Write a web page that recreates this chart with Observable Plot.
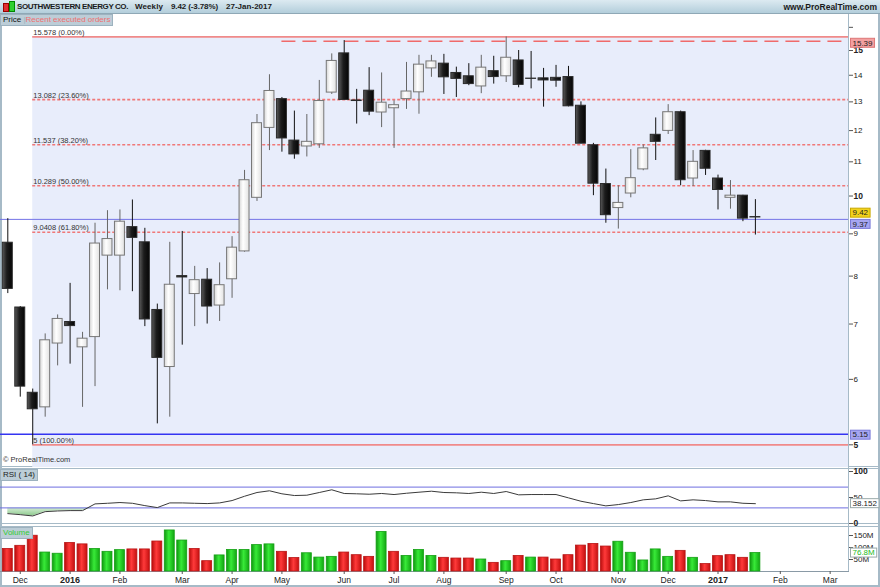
<!DOCTYPE html>
<html><head><meta charset="utf-8">
<script src="https://cdn.jsdelivr.net/npm/d3@7"></script>
<script src="https://cdn.jsdelivr.net/npm/@observablehq/plot@0.6"></script>
<style>
body{margin:0;background:#fff;font-family:"Liberation Sans",Arial,sans-serif;}
#root{position:relative;width:880px;height:587px;overflow:hidden;background:#fff;}
.abs{position:absolute;}
.hdr{left:0;top:0;width:880px;height:14px;background:linear-gradient(#dceaf1,#b3cedb);border-bottom:1px solid #8fa8b6;box-sizing:border-box;}
.ttl{top:1px;font-weight:bold;font-size:8px;color:#1b1b1b;line-height:12px;white-space:pre;}
.www{right:3px;top:1px;font-weight:bold;font-size:8.5px;color:#1b1b1b;line-height:12px;}
.tab{font-size:8px;line-height:10px;height:10px;padding:0 2px;background:#bccdd7;border:1px solid #9db2bf;white-space:pre;}
.ln{background:#a6bac7;}
</style></head><body>
<svg width="0" height="0" style="position:absolute">
<defs>
<linearGradient id="gW" x1="0" x2="1" y1="0" y2="0"><stop offset="0" stop-color="#d6d6d6"/><stop offset="0.4" stop-color="#ffffff"/><stop offset="1" stop-color="#e2e2e2"/></linearGradient>
<linearGradient id="gB" x1="0" x2="1" y1="0" y2="0"><stop offset="0" stop-color="#5a5a5a"/><stop offset="0.45" stop-color="#1c1c1c"/><stop offset="1" stop-color="#050505"/></linearGradient>
<linearGradient id="gR" x1="0" x2="1" y1="0" y2="0"><stop offset="0" stop-color="#b80c0c"/><stop offset="0.45" stop-color="#ff3a3a"/><stop offset="1" stop-color="#c41010"/></linearGradient>
<linearGradient id="gG" x1="0" x2="1" y1="0" y2="0"><stop offset="0" stop-color="#109810"/><stop offset="0.45" stop-color="#38ea38"/><stop offset="1" stop-color="#12a612"/></linearGradient>
<linearGradient id="gRsi" x1="0" x2="0" y1="0" y2="1"><stop offset="0" stop-color="#d6eed6"/><stop offset="1" stop-color="#8fca8f"/></linearGradient>
</defs></svg>
<div id="root"></div>
<script>
// ---------- data ----------
const weekDates = ["2015-11-30","2015-12-07","2015-12-14","2015-12-21","2015-12-28","2016-01-04","2016-01-11","2016-01-18","2016-01-25","2016-02-01","2016-02-08","2016-02-15","2016-02-22","2016-02-29","2016-03-07","2016-03-14","2016-03-21","2016-03-28","2016-04-04","2016-04-11","2016-04-18","2016-04-25","2016-05-02","2016-05-09","2016-05-16","2016-05-23","2016-05-30","2016-06-06","2016-06-13","2016-06-20","2016-06-27","2016-07-04","2016-07-11","2016-07-18","2016-07-25","2016-08-01","2016-08-08","2016-08-15","2016-08-22","2016-08-29","2016-09-05","2016-09-12","2016-09-19","2016-09-26","2016-10-03","2016-10-10","2016-10-17","2016-10-24","2016-10-31","2016-11-07","2016-11-14","2016-11-21","2016-11-28","2016-12-05","2016-12-12","2016-12-19","2016-12-26","2017-01-02","2017-01-09","2017-01-16","2017-01-23"];
const openP  = [8.78,7.33,5.78,5.55,6.63,7.04,6.56,6.75,8.47,8.47,9.17,8.79,7.28,6.21,8.00,7.61,7.92,7.37,7.93,8.57,9.95,12.09,13.10,11.67,11.48,11.55,13.34,14.88,13.05,13.41,12.62,12.77,13.10,13.35,14.27,14.46,14.09,13.96,13.57,14.16,13.96,14.59,13.87,13.88,13.90,13.93,12.86,11.52,10.34,9.67,10.07,10.77,11.86,11.99,12.63,10.50,11.34,10.50,9.95,10.01,9.43];
const highP  = [9.39,7.35,5.84,6.81,7.18,7.84,6.84,9.27,9.60,9.62,9.89,9.14,7.40,8.79,9.06,8.22,8.17,8.30,8.93,10.74,12.55,14.02,13.16,12.67,12.55,13.80,14.86,15.42,13.46,14.30,14.09,13.04,14.51,14.80,14.80,14.84,14.32,14.46,14.80,14.76,15.578,15.00,14.96,14.27,14.39,14.35,13.00,11.58,10.78,10.29,11.38,11.53,12.43,12.90,12.67,11.35,11.36,10.60,10.44,10.02,9.90];
const lowP   = [7.62,5.71,5.00,5.40,6.23,6.26,5.55,5.88,7.70,7.68,7.66,6.95,5.30,5.40,6.60,6.95,7.00,7.05,7.52,8.55,9.85,11.35,11.30,11.08,11.15,11.42,13.27,13.05,12.22,12.51,12.10,11.42,12.73,12.56,13.92,13.27,13.16,13.60,13.30,13.66,13.72,13.52,13.48,12.81,13.54,12.82,11.57,10.01,9.27,9.12,9.95,10.73,11.04,11.87,10.29,10.27,10.59,9.62,9.64,9.31,8.97];
const closeP = [7.72,5.88,5.52,6.69,7.10,6.96,6.72,8.76,8.87,9.31,8.90,7.09,6.37,7.81,7.97,7.91,7.35,7.80,8.66,10.45,12.25,13.40,11.74,11.23,11.63,13.03,14.57,13.07,13.03,12.65,12.97,12.88,13.38,14.42,14.55,13.92,13.86,13.66,14.30,13.93,14.70,13.63,13.86,13.80,13.79,12.84,11.57,10.35,9.48,9.81,10.51,11.42,11.63,12.63,10.45,11.00,10.79,10.17,10.01,9.39,9.42];
const volumeM = [94,107,149,79,74,119,113,94,82,89,92,92,125,171,129,94,43,67,90,90,110,113,82,56,76,58,61,79,68,61,165,82,65,90,65,57,54,54,50,36,43,65,58,58,50,68,108,115,104,124,78,46,92,61,86,57,31,64,68,57,76.8];
const rsi14 = [19.0,17.0,14.5,22.8,24.1,24.8,24.8,37.7,38.9,40.3,38.9,34.4,30.6,39.6,39.6,38.9,38.3,39.6,44.1,52.4,59.6,62.9,57.1,53.8,54.4,59.6,64.8,57.7,57.1,56.3,57.7,55.7,58.2,60.2,62.1,59.6,59.0,57.7,60.2,57.7,61.5,55.1,55.7,55.7,55.7,49.3,42.8,38.3,33.9,36.4,40.3,45.5,47.4,53.2,43.5,45.5,44.1,41.6,41.6,38.9,38.152];

const fibLevels = [15.578,13.082,11.537,10.289,9.0408,5];
const fibPct = ["0.00%","23.60%","38.20%","50.00%","61.80%","100.00%"];
const fibSolid = [true,false,false,false,false,true];
const fibStart = "2015-12-14";
const resistanceLevel = 15.39, resistanceStart = "2016-05-02";
const blueLevels = [9.37, 5.15];
const lastClose = 9.42, lastRsi = 38.152, lastVolume = 76.8;
const priceTicks = [5,6,7,8,9,10,11,12,13,14,15,16];
const priceBoldTicks = [5,10,15];
const rsiLevels = [70,30];
const volTicks = [50,100,150];
const monthTickDates = ["2015-12-07","2016-01-04","2016-02-01","2016-03-07","2016-04-04","2016-05-02","2016-06-06","2016-07-04","2016-08-01","2016-09-05","2016-10-03","2016-11-07","2016-12-05","2017-01-02","2017-02-06","2017-03-06"];
const monthTickLabels = ["Dec","2016","Feb","Mar","Apr","May","Jun","Jul","Aug","Sep","Oct","Nov","Dec","2017","Feb","Mar"];
const titleParts = ["SOUTHWESTERN ENERGY CO.","Weekly","9.42 (-3.78%)","27-Jan-2017"];

// ---------- build ----------
const bars = weekDates.map((d,i)=>({
  date:new Date(d), open:openP[i], high:highP[i], low:lowP[i], close:closeP[i],
  vol:volumeM[i], rsi:rsi14[i], up: closeP[i] > openP[i],
  volUp: i>0 && closeP[i] >= closeP[i-1]
}));
const up = bars.filter(b=>b.up), dn = bars.filter(b=>!b.up);
const vUp = bars.filter(b=>b.volUp), vDn = bars.filter(b=>!b.volUp);
const xDomain = [new Date("2015-11-25T21:35Z"), new Date("2017-03-16T07:25Z")];
const half = 2.8*864e5;
const bx1 = d=>new Date(+d.date-half), bx2 = d=>new Date(+d.date+half);
const fib = fibLevels.map((v,i)=>({v, label:`${v} (${fibPct[i]})`, solid:fibSolid[i]}));
const FONT = "Liberation Sans, Arial, sans-serif";
const common = {width:880, marginLeft:0, marginRight:32, style:{background:"transparent", fontFamily:FONT, fontSize:"8px", overflow:"visible", color:"#222"}};
const ax = {tickSize:4, tickPadding:1, stroke:"#555", label:null};

const root = document.getElementById("root");
function place(el, top){ const w=document.createElement("div"); w.className="abs"; w.style.left="0px"; w.style.top=top+"px"; w.appendChild(el); root.appendChild(w); return el; }
function div(cls, css, html){ const e=document.createElement("div"); e.className="abs "+(cls||""); Object.assign(e.style, css); if(html!=null) e.innerHTML=html; root.appendChild(e); return e; }

// frame lines (drawn first, under the charts)
div("ln",{left:"0px",top:"14px",width:"2px",height:"572px"});
div("ln",{left:"878px",top:"14px",width:"2px",height:"572px"});
div("ln",{left:"0px",top:"466px",width:"880px",height:"1px"});
div("ln",{left:"0px",top:"468px",width:"880px",height:"1px"});
div("ln",{left:"0px",top:"523px",width:"880px",height:"1px"});
div("ln",{left:"0px",top:"526px",width:"880px",height:"1px"});
div("",{left:"0px",top:"571px",width:"849px",height:"1px",background:"#8a9aa6"});
div("ln",{left:"0px",top:"585px",width:"880px",height:"2px"});
div("ln",{left:"848px",top:"14px",width:"1px",height:"557px"});

// price panel
const price = Plot.plot({...common, height:453, marginTop:0, marginBottom:0,
  x:{type:"utc", domain:xDomain, axis:null},
  y:{type:"log", domain:[5,15], range:[430.3,36], axis:null},
  marks:[
    Plot.rect([0], {x1:new Date(fibStart), x2:xDomain[1], y1:fibLevels[0], y2:4.5, fill:"#e8edfb", clip:true}),
    Plot.ruleY(fib.filter(f=>!f.solid), {y:"v", x1:new Date(fibStart), x2:xDomain[1], stroke:"#f07878", strokeWidth:1.6, strokeDasharray:"3,2"}),
    Plot.ruleY(fib.filter(f=>f.solid), {y:"v", x1:new Date(fibStart), x2:xDomain[1], stroke:"#f08a8a", strokeWidth:1.8}),
    Plot.text(fib, {y:"v", x:new Date(fibStart), text:"label", textAnchor:"start", dy:-4.5, dx:0.5, fill:"#333", fontSize:7.5}),
    Plot.ruleY([blueLevels[0]], {stroke:"#7373e6", strokeWidth:1}),
    Plot.ruleY([blueLevels[1]], {stroke:"#3434f2", strokeWidth:1.5}),
    Plot.ruleY([resistanceLevel], {x1:new Date(resistanceStart), x2:xDomain[1], stroke:"#f06a6a", strokeWidth:1.6, strokeDasharray:"14,7"}),
    Plot.ruleX(up, {x:"date", y1:"low", y2:"high", stroke:"#666"}),
    Plot.ruleX(dn, {x:"date", y1:"low", y2:"high", stroke:"#111"}),
    Plot.rect(up, {x1:bx1, x2:bx2, y1:"open", y2:"close", fill:"url(#gW)", stroke:"#777", strokeWidth:1}),
    Plot.rect(dn, {x1:bx1, x2:bx2, y1:"open", y2:"close", fill:"url(#gB)", stroke:"#2a2a2a", strokeWidth:1}),
    Plot.axisY({...ax, anchor:"right", ticks:priceTicks.filter(t=>!priceBoldTicks.includes(t)), tickFormat:d=>d===16?"":d, fontSize:8}),
    Plot.axisY({...ax, anchor:"right", ticks:priceBoldTicks, fontSize:8.5, fontWeight:"bold"})
  ]});
place(price, 14);

// RSI panel
const rsiPlot = Plot.plot({...common, height:57, marginTop:3, marginBottom:2,
  x:{type:"utc", domain:xDomain, axis:null},
  y:{domain:[0,100], axis:null},
  marks:[
    Plot.areaY(bars, {x:"date", y1:30, y2:d=>Math.min(d.rsi,30), fill:"url(#gRsi)"}),
    Plot.ruleY(rsiLevels, {stroke:"#6d6de0", strokeWidth:1}),
    Plot.lineY(bars, {x:"date", y:"rsi", stroke:"#3a3a3a", strokeWidth:1}),
    Plot.axisY({...ax, anchor:"right", ticks:[50], fontSize:8}),
    Plot.axisY({...ax, anchor:"right", ticks:[0,100], fontSize:8.5, fontWeight:"bold"})
  ]});
place(rsiPlot, 468);

// Volume panel
const isYear = s=>/^\d+$/.test(s);
const labelOf = d=>monthTickLabels[monthTickDates.indexOf(d.toISOString().slice(0,10))];
const volPlot = Plot.plot({...common, height:61, marginTop:9, marginBottom:16,
  x:{type:"utc", domain:xDomain, axis:null},
  y:{domain:[0,150], axis:null},
  marks:[
    Plot.rect(vUp, {x1:bx1, x2:bx2, y1:0, y2:"vol", fill:"url(#gG)", stroke:"#14a014", strokeWidth:0.8}),
    Plot.rect(vDn, {x1:bx1, x2:bx2, y1:0, y2:"vol", fill:"url(#gR)", stroke:"#b81414", strokeWidth:0.8}),
    Plot.axisY({...ax, anchor:"right", ticks:volTicks, tickFormat:d=>d+"M", fontSize:8}),
    Plot.axisX({...ax, anchor:"bottom", ticks:monthTickDates.filter((d,i)=>!isYear(monthTickLabels[i])).map(d=>new Date(d)),
      tickFormat:labelOf, tickSize:3, tickPadding:2, fontSize:8.5}),
    Plot.axisX({...ax, anchor:"bottom", ticks:monthTickDates.filter((d,i)=>isYear(monthTickLabels[i])).map(d=>new Date(d)),
      tickFormat:labelOf, tickSize:3, tickPadding:2, fontSize:9, fontWeight:"bold"})
  ]});
place(volPlot, 526);

// value tags on the right axis, placed through each chart's own y scale
function tag(plot, value, text, bg, border, color, dy){
  const y = plot.scale("y").apply(value) + dy;
  const g = d3.select(plot).append("g").attr("text-anchor","start");
  const r = g.append("rect").attr("x",850.5).attr("y",y-4.5).attr("height",9).attr("fill",bg).attr("stroke",border).attr("stroke-width",1);
  const t = g.append("text").attr("x",852.5).attr("y",y).attr("dy","0.35em").attr("text-anchor","start")
    .attr("font-size",8).attr("font-family",FONT).attr("fill",color).text(text);
  r.attr("width", t.node().getComputedTextLength()+4);
}
tag(price, resistanceLevel, "15.39", "#f3a0a0", "#d77", "#222", 2);
tag(price, lastClose, "9.42", "#f2d21c", "#c8a800", "#222", -4.3);
tag(price, blueLevels[0], "9.37", "#a6a6f2", "#7a7ad8", "#222", 5);
tag(price, blueLevels[1], "5.15", "#a6a6f2", "#7a7ad8", "#222", 1);
tag(rsiPlot, lastRsi, "38.152", "#ffffff", "#9aa", "#222", 0);
tag(volPlot, lastVolume, "76.8M", "#ffffff", "#9aa", "#22bb22", 0);

// chrome
div("hdr",{});
div("",{left:"3px",top:"3px",width:"4px",height:"7px",background:"#e03030",border:"1px solid #900"});
div("",{left:"9px",top:"1px",width:"4px",height:"9px",background:"#30d030",border:"1px solid #080"});
const titleX = [17,135,171,226], titleW = [111,28,47,46];
titleParts.forEach((s,i)=>{
  const e = div("ttl",{left:titleX[i]+"px"}, s);
  const w = e.getBoundingClientRect().width;
  e.style.letterSpacing = ((titleW[i]-w)/s.length).toFixed(3)+"px";
});
div("www",{}, "www.ProRealTime.com");
div("tab",{left:"0px",top:"14px"}, '<span style="color:#111">Price</span><span style="color:#9db2bf"> |</span><span style="color:#f07070">Recent executed orders</span>');
div("",{left:"3px",top:"455px",fontSize:"7.5px",color:"#333",lineHeight:"10px"}, "© ProRealTime.com");
div("tab",{left:"0px",top:"469px"}, '<span style="color:#222">RSI ( 14)</span>');
div("tab",{left:"0px",top:"527px"}, '<span style="color:#33cc33">Volume</span>');
</script>
</body></html>
